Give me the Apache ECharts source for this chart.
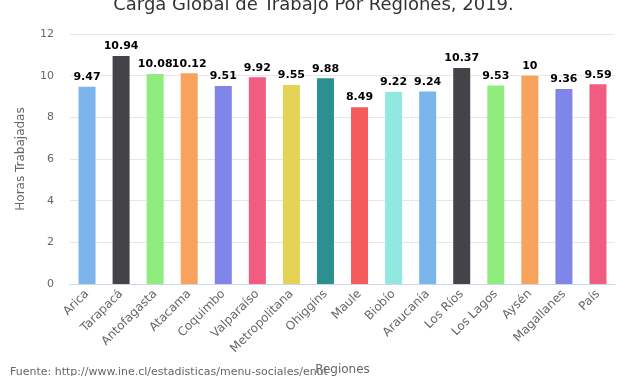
<!DOCTYPE html>
<html>
<head>
<meta charset="utf-8">
<script src="https://cdn.jsdelivr.net/npm/echarts@6/dist/echarts.min.js"></script>
<style>
  html, body { margin: 0; padding: 0; background: #fff; }
  #chart { width: 627px; height: 376px; }
</style>
</head>
<body>
<div id="chart"></div>
<script>
// datos
var regiones = ['Arica', 'Tarapacá', 'Antofagasta', 'Atacama', 'Coquimbo', 'Valparaíso', 'Metropolitana',
  'Ohiggins', 'Maule', 'Biobío', 'Araucanía', 'Los Ríos', 'Los Lagos', 'Aysén', 'Magallanes', 'País'];
var horas = [9.47, 10.94, 10.08, 10.12, 9.51, 9.92, 9.55, 9.88, 8.49, 9.22, 9.24, 10.37, 9.53, 10, 9.36, 9.59];
var colores = ['#7cb5ec', '#434348', '#90ed7d', '#f7a35c', '#8085e9', '#f15c80', '#e4d354', '#2b908f',
  '#f45b5b', '#91e8e1'];

var chart = echarts.init(document.getElementById('chart'));
chart.setOption({
  animation: false,
  textStyle: { fontFamily: 'DejaVu Sans' },
  title: {
    text: 'Carga Global de Trabajo Por Regiones, 2019.',
    left: 'center',
    top: -9,
    textStyle: { fontSize: 18, fontWeight: 'normal', color: '#333' }
  },
  graphic: [{
    type: 'text',
    left: 10,
    top: 367,
    style: { text: 'Fuente: http://www.ine.cl/estadisticas/menu-sociales/enut', fontSize: 11, fill: '#666', fontFamily: 'DejaVu Sans' }
  }],
  grid: { left: 70, right: 12, top: 34, bottom: 92, outerBoundsMode: 'none' },
  xAxis: {
    type: 'category',
    data: regiones,
    name: 'Regiones',
    nameLocation: 'middle',
    nameGap: 80,
    nameTextStyle: { color: '#666', fontSize: 12 },
    axisTick: { show: false },
    axisLine: { lineStyle: { color: '#ccd6eb' } },
    axisLabel: { rotate: 45, color: '#666', fontSize: 12, interval: 0, margin: 8 }
  },
  yAxis: {
    type: 'value',
    min: 0,
    max: 12,
    interval: 2,
    name: 'Horas Trabajadas',
    nameLocation: 'middle',
    nameGap: 43,
    nameTextStyle: { color: '#666', fontSize: 12 },
    axisLabel: { color: '#666', fontSize: 11, margin: 16 },
    splitLine: { lineStyle: { color: '#e6e6e6' } }
  },
  series: [{
    type: 'bar',
    barWidth: 17,
    data: horas.map(function (v, i) {
      return { value: v, itemStyle: { color: colores[i % colores.length] } };
    }),
    label: {
      show: true,
      position: 'top',
      distance: 4,
      color: '#000',
      fontWeight: 'bold',
      fontSize: 11,
      textBorderColor: '#fff',
      textBorderWidth: 2
    }
  }]
});
</script>
</body>
</html>
